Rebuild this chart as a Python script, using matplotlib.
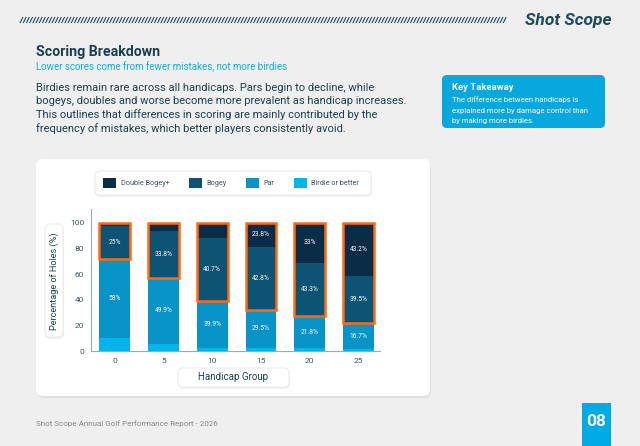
import numpy as np
import matplotlib
matplotlib.use("Agg")
import matplotlib.pyplot as plt
from matplotlib.patches import FancyBboxPatch, Rectangle

plt.rcParams['font.family'] = ['Roboto', 'DejaVu Sans']

# data
handicaps = ['0', '5', '10', '15', '20', '25']
birdie = [9.9, 5.8, 2.6, 2.6, 2.1, 1.8]
par = [61.8, 51.0, 36.7, 29.6, 25.1, 19.7]
bogey = [25.7, 36.9, 48.9, 49.2, 41.6, 36.6]
double = [2.6, 6.3, 11.8, 18.6, 31.2, 41.9]
par_labels = ['58%', '49.9%', '39.9%', '29.5%', '21.8%', '16.7%']
bogey_labels = ['25%', '33.8%', '40.7%', '42.8%', '43.3%', '39.5%']
double_labels = ['', '', '', '23.8%', '33%', '43.2%']

series_names = ['Double Bogey+', 'Bogey', 'Par', 'Birdie or better']
colors = {'Double Bogey+': '#0b2c46', 'Bogey': '#0d5373', 'Par': '#0894c7', 'Birdie or better': '#00b6ec'}
orange = '#ff6a13'
dark_text = '#1b3f52'

W, H = 640, 446
fig = plt.figure(figsize=(W / 100, H / 100), dpi=100)
fig.patch.set_facecolor('#efefef')

# background axes in pixel coordinates
bg = fig.add_axes([0, 0, 1, 1], zorder=0)
bg.set_xlim(0, W)
bg.set_ylim(H, 0)
bg.axis('off')


def rbox(x0, y0, x1, y1, fc, ec='none', r=6, shadow=False, lw=0.8):
    if shadow:
        bg.add_patch(FancyBboxPatch((x0 + 1, y0 + 2), x1 - x0, y1 - y0,
                                    boxstyle=f"round,pad=0,rounding_size={r}",
                                    fc='#000000', ec='none', alpha=0.06))
    bg.add_patch(FancyBboxPatch((x0, y0), x1 - x0, y1 - y0,
                                boxstyle=f"round,pad=0,rounding_size={r}",
                                fc=fc, ec=ec, lw=lw))


# header stripes + logo
for xs in np.arange(20, 506, 3.2):
    bg.plot([xs, xs + 3], [23, 17], color='#1d4a5c', lw=0.8, solid_capstyle='butt')
bg.text(568, 20.5, 'Shot Scope', fontsize=12.5, fontweight='semibold', style='italic',
        color='#1d4a5c', ha='center', va='center')

# title block
bg.text(36, 52, 'Scoring Breakdown', fontsize=10.2, fontweight='bold', color=dark_text, va='center')
bg.text(36, 67, 'Lower scores come from fewer mistakes, not more birdies', fontsize=7,
        color='#14ade2', va='center')
body_lines = ["Birdies remain rare across all handicaps. Pars begin to decline, while",
              "bogeys, doubles and worse become more prevalent as handicap increases.",
              "This outlines that differences in scoring are mainly contributed by the",
              "frequency of mistakes, which better players consistently avoid."]
for k, line in enumerate(body_lines):
    bg.text(36, 88 + k * 13.4, line, fontsize=8.0, color=dark_text, va='center')

# key takeaway box
rbox(442, 75, 605, 128, '#08a8de', r=5)
bg.text(452, 88, 'Key Takeaway', fontsize=6.8, fontweight='bold', color='white', va='center')
take_lines = ["The difference between handicaps is",
              "explained more by damage control than",
              "by making more birdies."]
for k, line in enumerate(take_lines):
    bg.text(452, 100 + k * 10.5, line, fontsize=5.6, color='white', va='center')

# card
rbox(36, 159, 430, 396, 'white', r=7, shadow=True)
rbox(95, 171, 371, 195, 'white', ec='#ececec', r=5, shadow=True)
rbox(45, 224, 63, 337, 'white', ec='#ececec', r=5, shadow=True)
bg.text(54, 281, 'Percentage of Holes (%)', fontsize=6.6, color=dark_text, rotation=90,
        ha='center', va='center')
rbox(178, 368, 289, 387, 'white', ec='#ececec', r=5, shadow=True)
bg.text(233.5, 377.5, 'Handicap Group', fontsize=7, color=dark_text, ha='center', va='center')

# footer
bg.text(36, 424, 'Shot Scope Annual Golf Performance Report - 2026', fontsize=5.8,
        color='#8a8a8a', va='center')
bg.add_patch(Rectangle((582, 403), 29, 43, fc='#00aae2', ec='none'))
bg.text(596.5, 421, '08', fontsize=12.5, fontweight='bold', color='white', ha='center', va='center')

# chart axes
ax_l, ax_r, ax_top, ax_bot = 91, 380, 209, 351
ax = fig.add_axes([ax_l / W, (H - ax_bot) / H, (ax_r - ax_l) / W, (ax_bot - ax_top) / H], zorder=1)
ax.patch.set_alpha(0)

x = np.arange(len(handicaps))
bw = 0.635
b_birdie = np.array(birdie)
b_par = b_birdie + np.array(par)
b_bogey = b_par + np.array(bogey)

ax.bar(x, birdie, bw, color=colors['Birdie or better'], label='Birdie or better')
ax.bar(x, par, bw, bottom=b_birdie, color=colors['Par'], label='Par')
ax.bar(x, bogey, bw, bottom=b_par, color=colors['Bogey'], label='Bogey')
ax.bar(x, double, bw, bottom=b_bogey, color=colors['Double Bogey+'], label='Double Bogey+')

# orange outline around bogey + double
for i in range(len(x)):
    top = b_bogey[i] + double[i]
    ax.add_patch(Rectangle((x[i] - bw / 2, b_par[i]), bw, top - b_par[i], fill=False,
                           ec=orange, lw=1.8, zorder=3))

for i in range(len(x)):
    ax.text(x[i], (b_birdie[i] + b_par[i]) / 2, par_labels[i], color='white', fontsize=4.8,
            ha='center', va='center', zorder=4)
    ax.text(x[i], (b_par[i] + b_bogey[i]) / 2, bogey_labels[i], color='white', fontsize=4.8,
            ha='center', va='center', zorder=4)
    if double_labels[i]:
        ax.text(x[i], b_bogey[i] + double[i] / 2, double_labels[i], color='white', fontsize=4.8,
                ha='center', va='center', zorder=4)

ax.set_xlim(-0.486, 5.44)
ax.set_ylim(0, 110.7)
ax.set_yticks([0, 20, 40, 60, 80, 100])
ax.set_xticks(x)
ax.set_xticklabels(handicaps)
ax.tick_params(length=0, labelsize=6, labelcolor='#3a5563', pad=5)
for s in ['top', 'right']:
    ax.spines[s].set_visible(False)
for s in ['left', 'bottom']:
    ax.spines[s].set_color('#9aaab4')
    ax.spines[s].set_linewidth(0.8)

handles, labels = ax.get_legend_handles_labels()
order = [labels.index(n) for n in series_names]
leg = fig.legend([handles[k] for k in order], series_names, ncol=4, loc='center',
                 bbox_to_anchor=(231 / W, (H - 183) / H), frameon=False, fontsize=5.2,
                 handlelength=1.8, handleheight=1.8, handletextpad=0.6, columnspacing=2.7)
for t in leg.get_texts():
    t.set_color('#3a5563')

fig.savefig('out.png', dpi=100, facecolor=fig.get_facecolor())
